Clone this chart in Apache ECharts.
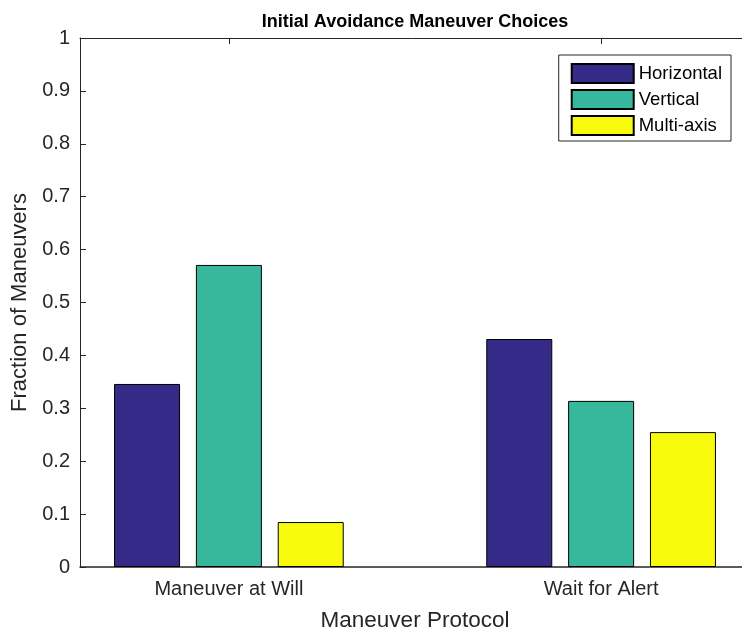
<!DOCTYPE html>
<html>
<head>
<meta charset="utf-8">
<script src="https://cdn.jsdelivr.net/npm/echarts@6/dist/echarts.min.js"></script>
<style>
  html, body { margin: 0; padding: 0; background: #fff; }
  #chart { width: 742px; height: 634px; }
</style>
</head>
<body>
<div id="chart"></div>
<script>
// protocol groups, placed at x = 1, 2
const protocols = ['Maneuver at Will', 'Wait for Alert'];
const groupPos = [1, 2];
const horizontal = [0.346, 0.431];
const vertical = [0.571, 0.314];
const multiAxis = [0.085, 0.255];

const axisColor = '#262626';
const font = 'Liberation Sans, Arial, sans-serif';

const toPoints = vals => vals.map((v, i) => [groupPos[i], v]);

const barSeries = (name, vals, color) => ({
  name: name,
  type: 'bar',
  xAxisIndex: 0,
  data: toPoints(vals),
  barWidth: 66,
  barGap: '24%',
  itemStyle: { color: color, borderColor: '#000', borderWidth: 1 }
});

const chart = echarts.init(document.getElementById('chart'));
chart.setOption({
  animation: false,
  backgroundColor: '#fff',
  title: {
    text: 'Initial Avoidance Maneuver Choices',
    left: 410, top: 8, textAlign: 'center',
    textStyle: { fontFamily: font, fontSize: 18, fontWeight: 'bold', color: '#000' }
  },
  legend: {
    right: 11, top: 55,
    orient: 'vertical',
    itemWidth: 62, itemHeight: 19, itemGap: 5,
    padding: [8, 9, 5, 12],
    borderColor: axisColor, borderWidth: 1,
    icon: 'rect',
    textStyle: { fontFamily: font, fontSize: 18.5, color: '#000' },
    data: ['Horizontal', 'Vertical', 'Multi-axis']
  },
  grid: { left: 80, top: 38, width: 670, height: 529, outerBoundsMode: 'none', containLabel: false },
  xAxis: [{
    type: 'value', position: 'bottom',
    min: 0.6, max: 2.4,
    name: 'Maneuver Protocol', nameLocation: 'middle', nameGap: 42,
    nameTextStyle: { fontFamily: font, fontSize: 22.5, color: axisColor },
    splitLine: { show: false },
    axisLine: { show: true, lineStyle: { color: axisColor, width: 1.5 } },
    axisTick: { show: false },
    axisLabel: {
      customValues: groupPos, margin: 12,
      fontFamily: font, fontSize: 20, color: axisColor,
      formatter: v => protocols[groupPos.indexOf(v)] || ''
    }
  }, {
    type: 'value', position: 'top',
    min: 0.6, max: 2.4,
    splitLine: { show: false },
    axisLine: { show: true, lineStyle: { color: axisColor, width: 1 } },
    axisTick: { show: true, inside: true, length: 6, customValues: groupPos, lineStyle: { color: axisColor } },
    axisLabel: { show: false }
  }],
  yAxis: {
    type: 'value', min: 0, max: 1, interval: 0.1,
    name: 'Fraction of Maneuvers', nameLocation: 'middle', nameGap: 49,
    nameTextStyle: { fontFamily: font, fontSize: 22, color: axisColor },
    splitLine: { show: false },
    axisLine: { show: true, lineStyle: { color: axisColor, width: 1 } },
    axisTick: { show: true, inside: true, length: 6, lineStyle: { color: axisColor } },
    axisLabel: {
      margin: 10, fontFamily: font, fontSize: 20, color: axisColor,
      formatter: v => String(Math.round(v * 10) / 10)
    }
  },
  series: [
    barSeries('Horizontal', horizontal, '#352a87'),
    barSeries('Vertical', vertical, '#37b89d'),
    barSeries('Multi-axis', multiAxis, '#f8fa0d')
  ]
});
</script>
</body>
</html>
